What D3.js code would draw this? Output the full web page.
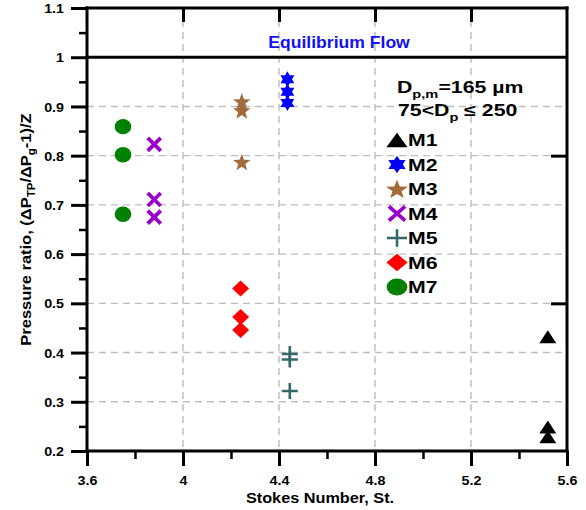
<!DOCTYPE html>
<html><head><meta charset="utf-8">
<script src="https://cdn.jsdelivr.net/npm/d3@7"></script>
<style>body{margin:0;background:#fff}svg{display:block}text{font-family:"Liberation Sans",Arial,sans-serif;font-weight:bold}</style>
</head><body><svg id="c" width="586" height="510"></svg>
<script>
// ---- data ----
const seriesNames = ["M1","M2","M3","M4","M5","M6","M7"];
const m1X = [5.52, 5.52, 5.52];   const m1Y = [0.432, 0.249, 0.229];
const m2X = [4.435, 4.435, 4.435]; const m2Y = [0.955, 0.930, 0.907];
const m3X = [4.245, 4.245, 4.245]; const m3Y = [0.910, 0.892, 0.787];
const m4X = [3.88, 3.88, 3.88];   const m4Y = [0.823, 0.711, 0.675];
const m5X = [4.445, 4.445, 4.445]; const m5Y = [0.397, 0.386, 0.322];
const m6X = [4.24, 4.24, 4.24];   const m6Y = [0.530, 0.472, 0.446];
const m7X = [3.75, 3.75, 3.75];   const m7Y = [0.859, 0.802, 0.681];
const xTicks = [3.6, 4.0, 4.4, 4.8, 5.2, 5.6];
const xMinor = [3.8, 4.2, 4.6, 5.0, 5.4];
const yTicks = [0.2, 0.3, 0.4, 0.5, 0.6, 0.7, 0.8, 0.9, 1.0, 1.1];
const yMinor = [0.25, 0.35, 0.45, 0.55, 0.65, 0.75, 0.85, 0.95, 1.05];
const equilibriumValue = 1.0;

const colors = {M1:"#000000",M2:"#0000ff",M3:"#a26b3c",M4:"#9b00cc",M5:"#356969",M6:"#ff0000",M7:"#008000"};
const shapes = {M1:"tri",M2:"hex",M3:"star",M4:"x",M5:"plus",M6:"dia",M7:"circ"};
const seriesData = {M1:[m1X,m1Y],M2:[m2X,m2Y],M3:[m3X,m3Y],M4:[m4X,m4Y],M5:[m5X,m5Y],M6:[m6X,m6Y],M7:[m7X,m7Y]};

const svg = d3.select("#c");
const L = 87, R = 567, T = 8, B = 451;
const x = d3.scaleLinear().domain([3.6, 5.6]).range([L, R]);
const y = d3.scaleLinear().domain([0.2, 1.1]).range([B, T]);

// grid
const grid = svg.append("g").attr("stroke","#bdbdbd").attr("stroke-width",1.4).attr("stroke-dasharray","7,5");
xTicks.filter(v => v > 3.6 && v < 5.6).forEach(v => grid.append("line").attr("x1",x(v)).attr("x2",x(v)).attr("y1",T).attr("y2",B));
yTicks.filter(v => v > 0.2 && v < 1.0).forEach(v => grid.append("line").attr("y1",y(v)).attr("y2",y(v)).attr("x1",L).attr("x2",R));

// axes
function styleAxis(g, w){ g.select(".domain").remove(); g.selectAll(".tick line").attr("stroke","#000").attr("stroke-width",w); }
const fmt = d => d3.format("")(+d.toFixed(1));
const bx = svg.append("g").attr("transform",`translate(0,${B})`)
  .call(d3.axisBottom(x).tickValues(xTicks).tickSize(15).tickFormat(fmt));
styleAxis(bx,3);
bx.selectAll("text").attr("font-size",13).attr("fill","#000").attr("y",null).attr("dy",null)
  .attr("transform","translate(0,34) scale(1.1,1)");
const bxm = svg.append("g").attr("transform",`translate(0,${B})`)
  .call(d3.axisBottom(x).tickValues(xMinor).tickSize(8).tickFormat(""));
styleAxis(bxm,2.5);

const ly = svg.append("g").attr("transform",`translate(${L},0)`)
  .call(d3.axisLeft(y).tickValues(yTicks).tickSize(16).tickFormat(fmt));
styleAxis(ly,3);
ly.selectAll("text").attr("font-size",13).attr("fill","#000").attr("x",null).attr("dy",null)
  .attr("transform","translate(-23,4.6) scale(1.1,1)");
const lym = svg.append("g").attr("transform",`translate(${L},0)`)
  .call(d3.axisLeft(y).tickValues(yMinor).tickSize(8).tickFormat(""));
styleAxis(lym,2.5);

const tx = svg.append("g").attr("transform",`translate(0,${T})`)
  .call(d3.axisBottom(x).tickValues(xTicks.filter(v => v > 3.6 && v < 5.6)).tickSize(14).tickFormat(""));
styleAxis(tx,3);
const ry = svg.append("g").attr("transform",`translate(${R},0)`)
  .call(d3.axisLeft(y).tickValues([0.5, 0.8]).tickSize(16).tickFormat(""));
styleAxis(ry,3);

// frame lines
const frame = svg.append("g").attr("stroke","#000").attr("stroke-width",3).attr("stroke-linecap","square");
frame.append("line").attr("x1",L).attr("x2",R).attr("y1",T).attr("y2",T);
frame.append("line").attr("x1",L).attr("x2",R).attr("y1",B).attr("y2",B);
frame.append("line").attr("x1",L).attr("x2",L).attr("y1",T).attr("y2",B);
frame.append("line").attr("x1",R).attr("x2",R).attr("y1",T).attr("y2",B);
svg.append("line").attr("x1",L).attr("x2",R).attr("y1",y(equilibriumValue)).attr("y2",y(equilibriumValue))
  .attr("stroke","#000").attr("stroke-width",3);
svg.append("text").attr("transform",`translate(339,48) scale(1.1,1)`).attr("text-anchor","middle")
  .attr("font-size",16).attr("fill","#1212ee").text("Equilibrium Flow");

// symbol drawing
function drawSym(g, type, cx, cy, s, color){
  // s = scale factor, sx = horizontal stretch
  const sx = s[0], sy = s[1];
  const gg = g.append("g").attr("transform",`translate(${cx},${cy})`);
  if (type === "tri") {
    gg.append("path").attr("d",`M0,${-6.5*sy}L${8.5*sx},${6.5*sy}L${-8.5*sx},${6.5*sy}Z`).attr("fill",color);
  } else if (type === "dia") {
    gg.append("path").attr("d",`M0,${-8*sy}L${8.5*sx},0L0,${8*sy}L${-8.5*sx},0Z`).attr("fill",color);
  } else if (type === "circ") {
    gg.append("ellipse").attr("rx",8.3*sx).attr("ry",7.7*sy).attr("fill",color);
  } else if (type === "star") {
    const pts = [];
    for (let i=0;i<10;i++){ const r = i%2 ? 3.8 : 9.2; const a = -Math.PI/2 + i*Math.PI/5;
      pts.push([r*Math.cos(a)*sx, r*Math.sin(a)*sy + 0.8*sy]); }
    gg.append("path").attr("d","M"+pts.map(p=>p.join(",")).join("L")+"Z").attr("fill",color);
  } else if (type === "hex") {
    const pts = [];
    for (let i=0;i<12;i++){ const r = i%2 ? 8/Math.sqrt(3) : 8; const a = -Math.PI/2 + i*Math.PI/6;
      pts.push([r*Math.cos(a)*sx, r*Math.sin(a)*sy]); }
    gg.append("path").attr("d","M"+pts.map(p=>p.join(",")).join("L")+"Z").attr("fill",color);
  } else if (type === "x") {
    gg.append("path").attr("d",`M${-6.5*sx},${-6.5*sy}L${6.5*sx},${6.5*sy}M${6.5*sx},${-6.5*sy}L${-6.5*sx},${6.5*sy}`)
      .attr("stroke",color).attr("stroke-width",3.8).attr("fill","none");
  } else if (type === "plus") {
    gg.append("path").attr("d",`M${-8*sx},0L${8*sx},0M0,${-8*sy}L0,${8*sy}`)
      .attr("stroke",color).attr("stroke-width",2.6).attr("fill","none");
  }
}

// points
const pts = svg.append("g");
seriesNames.forEach(n => {
  const [xs, ys] = seriesData[n];
  xs.forEach((xv,i) => drawSym(pts, shapes[n], x(xv), y(ys[i]), [1,1], colors[n]));
});

// legend
const lg = svg.append("g");
const h1 = lg.append("text").attr("transform","translate(397,93) scale(1.33,1)").attr("font-size",16).attr("fill","#000");
h1.append("tspan").text("D");
h1.append("tspan").attr("font-size",11).attr("dy",5).text("p,m");
h1.append("tspan").attr("dy",-5).text("=165 \u00b5m");
const h2 = lg.append("text").attr("transform","translate(398,115.5) scale(1.33,1)").attr("font-size",16).attr("fill","#000");
h2.append("tspan").text("75<D");
h2.append("tspan").attr("font-size",11).attr("dy",5).text("p");
h2.append("tspan").attr("dy",-5).text(" \u2264 250");
seriesNames.forEach((n,i) => {
  const cy = 140 + i*24.5;
  drawSym(lg, shapes[n], 397, cy, [1.25,1.1], colors[n]);
  lg.append("text").attr("transform",`translate(408,${cy+6}) scale(1.33,1)`).attr("font-size",16).attr("fill","#000").text(n);
});

// axis titles
svg.append("text").attr("transform","translate(320,503) scale(1.05,1)").attr("text-anchor","middle")
  .attr("font-size",15.5).attr("fill","#000").text("Stokes Number, St.");
const yl = svg.append("text").attr("transform","translate(31,229.5) rotate(-90) scale(1.1,1)").attr("text-anchor","middle")
  .attr("font-size",15).attr("fill","#000");
yl.append("tspan").text("Pressure ratio, (\u0394P");
yl.append("tspan").attr("font-size",10.5).attr("dy",4).text("TP");
yl.append("tspan").attr("dy",-4).text("/\u0394P");
yl.append("tspan").attr("font-size",10.5).attr("dy",4).text("g");
yl.append("tspan").attr("dy",-4).text("-1)/Z");
</script></body></html>
